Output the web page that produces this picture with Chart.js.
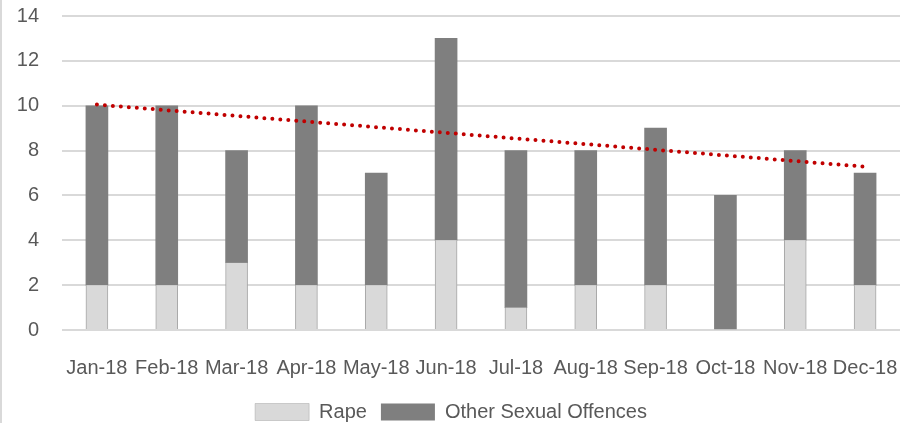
<!DOCTYPE html>
<html>
<head>
<meta charset="utf-8">
<script src="https://cdn.jsdelivr.net/npm/chart.js@4/dist/chart.umd.min.js"></script>
<style>
	html, body { margin: 0; padding: 0; background: #fff; }
	#wrap { position: relative; width: 900px; height: 423px; box-sizing: border-box; border-left: 2px solid #d9d9d9; }
</style>
</head>
<body>
<div id="wrap"><canvas id="chart-offences"></canvas></div>
<script>
const MONTHS = ["Jan-18", "Feb-18", "Mar-18", "Apr-18", "May-18", "Jun-18", "Jul-18", "Aug-18", "Sep-18", "Oct-18", "Nov-18", "Dec-18"];
const RAPE = [2, 2, 3, 2, 2, 4, 1, 2, 2, 0, 4, 2];
const OTHER_OFFENCES = [8, 8, 5, 8, 5, 9, 7, 6, 7, 6, 4, 5];
// linear trend of the monthly totals at its two ends
const TREND = [10.05, null, null, null, null, null, null, null, null, null, null, 7.28];
const Y_TICKS = [0, 2, 4, 6, 8, 10, 12, 14];

const TEXT = "#595959";
const FONT = { family: "'Liberation Sans', Arial, sans-serif", size: 20 };

const CHART_DATA = {
	labels: MONTHS,
	datasets: [
		{
			label: "Rape",
			data: RAPE,
			backgroundColor: "#d9d9d9",
			borderColor: "#a6a6a6",
			borderWidth: { left: 1, right: 1, top: 0, bottom: 0 },
			barThickness: 22,
			stack: "crimes",
			order: 2,
		},
		{
			label: "Other Sexual Offences",
			data: OTHER_OFFENCES,
			backgroundColor: "#7f7f7f",
			borderWidth: 0,
			barThickness: 22,
			stack: "crimes",
			order: 2,
		},
		{
			type: "line",
			label: "Trend",
			data: TREND,
			spanGaps: true,
			borderColor: "#c00000",
			borderWidth: 4,
			borderDash: [0, 8],
			borderCapStyle: "round",
			pointRadius: 0,
			fill: false,
			stack: "trend",
			order: 1,
		},
	],
};

const CHART_CONFIG = {
	type: "bar",
	data: CHART_DATA,
	options: {
		responsive: true,
		maintainAspectRatio: false,
		animation: false,
		layout: {
			// negative bottom pushes the legend down to the canvas edge
			padding: { left: 0, right: 0, top: 16, bottom: -9 },
		},
		plugins: {
			legend: {
				position: "bottom",
				labels: {
					color: TEXT,
					font: FONT,
					boxWidth: 54,
					boxHeight: 17,
					padding: 14,
					filter: (item) => item.text !== "Trend",
				},
			},
			tooltip: { enabled: false },
		},
		scales: {
			x: {
				stacked: true,
				border: { display: false },
				grid: { display: false, drawTicks: false },
				afterFit: (scale) => {
					scale.paddingLeft = 0;
					scale.paddingRight = 0;
					scale.height = 58;
				},
				ticks: {
					color: TEXT,
					font: FONT,
					padding: 26,
					maxRotation: 0,
					autoSkip: false,
				},
			},
			y: {
				stacked: true,
				min: 0,
				max: 14,
				border: { display: false },
				grid: { color: "#d9d9d9", lineWidth: 2, drawTicks: false },
				afterFit: (scale) => {
					scale.width = 60;
					scale.paddingTop = 0;
					scale.paddingBottom = 0;
				},
				afterBuildTicks: (scale) => { scale.ticks = Y_TICKS.map((v) => ({ value: v })); },
				ticks: {
					color: TEXT,
					font: FONT,
					padding: 23,
				},
			},
		},
	},
};

new Chart(document.getElementById("chart-offences"), CHART_CONFIG);
</script>
</body>
</html>
